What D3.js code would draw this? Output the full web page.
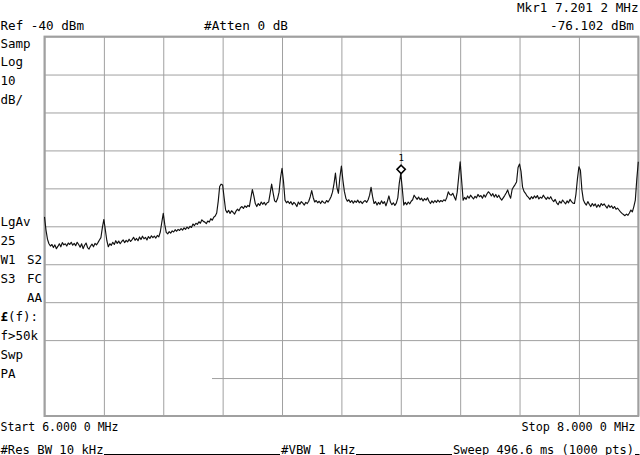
<!DOCTYPE html>
<html>
<head>
<meta charset="utf-8">
<script src="https://cdn.jsdelivr.net/npm/d3@7"></script>
<style>
  html, body { margin: 0; padding: 0; background: #fff; }
  svg { display: block; }
  text { font-family: "DejaVu Sans Mono", "Liberation Mono", monospace; font-size: 12.5px; fill: #000; }
</style>
</head>
<body>
<svg id="chart" width="640" height="455"></svg>
<script>
const startMHz = 6.0;
const stopMHz = 8.0;
const stepMHz = 0.005;          // trace readings every 5 kHz
const refLevelDbm = -40;
const dbPerDiv = 10;
const numDivs = 10;
const markerFreqMHz = 7.2012;
const markerLevelDbm = -76.102;
const markerLabel = "1";

// trace levels (dBm), one row per 0.1 MHz
const levelsDbm = [
  -87.5,-91.0,-93.4,-94.6,-95.2,-94.8,-95.6,-94.9,-95.9,-95.3,-94.6,-95.4,-94.3,-94.9,-94.6,-95.2,-94.4,-94.8,-94.2,-95.0,
  -94.5,-95.1,-94.2,-94.8,-95.5,-94.6,-95.9,-95.0,-94.4,-95.6,-96.0,-95.2,-94.7,-95.4,-94.5,-94.9,-94.3,-93.6,-93.0,-90.3,
  -88.2,-91.0,-93.8,-95.4,-94.6,-95.0,-94.2,-94.8,-93.8,-94.5,-93.9,-94.6,-94.0,-93.6,-94.3,-93.7,-94.1,-93.4,-94.0,-93.5,
  -92.9,-93.7,-93.2,-93.8,-92.8,-93.5,-92.6,-93.3,-92.9,-93.6,-92.7,-93.2,-92.5,-93.0,-92.6,-93.1,-92.4,-92.8,-91.5,-89.0,
  -86.6,-89.5,-91.6,-92.0,-91.4,-91.8,-91.2,-91.5,-90.9,-91.3,-90.8,-91.1,-90.6,-91.0,-90.4,-90.8,-90.2,-90.6,-90.0,-90.3,
  -89.4,-89.8,-89.2,-89.5,-88.8,-89.2,-88.3,-88.7,-88.9,-89.3,-88.6,-88.9,-88.0,-88.4,-87.6,-87.3,-86.5,-83.5,-79.5,-78.9,
  -79.1,-82.5,-85.7,-86.4,-85.8,-86.6,-85.9,-86.3,-86.8,-86.0,-85.5,-85.9,-85.1,-84.8,-85.3,-84.6,-85.0,-84.5,-84.8,-82.6,
  -80.3,-82.0,-84.0,-84.8,-84.0,-84.5,-83.6,-84.2,-83.7,-84.4,-83.8,-83.6,-81.3,-78.9,-81.2,-83.3,-83.6,-82.7,-81.0,-77.2,
  -74.7,-78.2,-83.1,-83.8,-83.4,-84.0,-83.5,-84.3,-83.7,-84.1,-84.8,-83.6,-84.2,-83.5,-83.9,-84.4,-83.7,-84.0,-83.4,-82.2,
  -80.6,-82.4,-83.6,-83.2,-83.8,-83.4,-84.0,-83.3,-83.7,-83.9,-83.2,-83.6,-83.0,-82.2,-81.0,-78.8,-76.0,-79.8,-81.3,-77.0,
  -74.1,-77.8,-80.8,-82.6,-83.4,-83.0,-83.7,-83.2,-83.9,-83.3,-83.7,-83.1,-83.8,-83.4,-84.0,-83.5,-83.2,-83.7,-83.0,-81.8,
  -79.7,-82.2,-84.0,-83.5,-84.4,-83.7,-84.2,-83.3,-84.0,-83.5,-84.6,-83.4,-82.0,-83.6,-84.3,-83.8,-84.5,-83.9,-82.5,-78.6,
  -76.1,-80.0,-84.4,-83.7,-84.3,-83.6,-84.1,-83.4,-83.0,-81.8,-82.4,-82.9,-82.3,-83.0,-82.6,-83.3,-82.7,-83.1,-82.5,-83.4,
  -84.0,-83.3,-83.8,-83.2,-83.7,-83.1,-83.6,-83.2,-83.5,-83.0,-83.3,-82.4,-80.9,-81.6,-81.8,-81.3,-82.2,-83.1,-81.0,-77.0,
  -73.0,-78.0,-83.1,-82.4,-82.9,-82.0,-82.6,-81.8,-82.3,-82.8,-82.1,-82.5,-81.6,-82.2,-81.9,-82.6,-81.7,-82.3,-81.5,-80.9,
  -81.3,-82.0,-81.4,-82.3,-81.6,-82.4,-81.8,-82.6,-83.1,-82.5,-81.9,-81.2,-80.4,-81.7,-82.6,-80.3,-79.6,-79.0,-78.3,-74.5,
  -73.6,-75.5,-79.6,-80.8,-81.3,-82.0,-82.4,-82.9,-82.2,-82.7,-82.0,-82.5,-81.9,-82.8,-82.3,-82.6,-81.8,-82.4,-82.9,-82.3,
  -82.8,-82.2,-83.0,-83.5,-82.9,-83.8,-84.3,-83.4,-83.9,-83.1,-83.6,-84.1,-83.3,-83.8,-82.9,-83.5,-83.9,-84.0,-81.5,-77.5,
  -74.3,-75.2,-80.4,-83.1,-83.9,-84.4,-83.5,-84.2,-84.8,-84.0,-84.6,-84.1,-85.0,-84.3,-84.9,-84.0,-84.5,-84.1,-84.7,-85.2,
  -84.4,-85.0,-84.6,-85.3,-84.8,-85.5,-85.2,-85.7,-86.2,-86.6,-86.9,-87.2,-86.8,-87.1,-86.5,-85.7,-86.2,-84.8,-83.1,-77.5,
  -73.0
];

// annotation texts
const topRightLines = ["Mkr1 7.201 2 MHz", "-76.102 dBm"];
const headerLeft = "Ref -40 dBm";
const headerMid = "#Atten 0 dB";
const leftUpper = ["Samp", "Log", "10", "dB/"];
const leftLower = [["LgAv", ""], ["25", ""], ["W1", "S2"], ["S3", "FC"], ["", "AA"], ["£", ""], ["f>50k", ""], ["Swp", ""], ["PA", ""]];
const footerStart = "Start 6.000 0 MHz";
const footerStop = "Stop 8.000 0 MHz";
const footerRes = "#Res BW 10 kHz";
const footerVbw = "#VBW 1 kHz";
const footerSweep = "Sweep 496.6 ms (1000 pts)";

// ---- drawing ----
const svg = d3.select("#chart");
const L = 44.5, R = 638.3, T = 36.6, B = 416;
const x = d3.scaleLinear().domain([startMHz, stopMHz]).range([L, R]);
const y = d3.scaleLinear().domain([refLevelDbm - dbPerDiv * numDivs, refLevelDbm]).range([B, T]);

const gridColor = "#a0a0a0";
const xTicks = d3.range(0, numDivs + 1).map(i => startMHz + i * (stopMHz - startMHz) / numDivs);
const yTicks = d3.range(0, numDivs + 1).map(i => refLevelDbm - i * dbPerDiv);

// vertical grid via axis
const gx = svg.append("g").attr("transform", `translate(0,${B})`)
  .call(d3.axisBottom(x).tickValues(xTicks).tickSize(-(B - T)).tickFormat(""));
gx.select(".domain").remove();
gx.selectAll(".tick line").attr("stroke", gridColor).attr("stroke-width", 1);

// horizontal grid via axis
const gy = svg.append("g").attr("transform", `translate(${L},0)`)
  .call(d3.axisLeft(y).tickValues(yTicks).tickSize(-(R - L)).tickFormat(""));
gy.select(".domain").remove();
gy.selectAll(".tick line").attr("stroke", gridColor).attr("stroke-width", 1);
// the line one division above the bottom is partly blanked on the screen
gy.selectAll(".tick").filter(d => d === refLevelDbm - 9 * dbPerDiv).select("line")
  .attr("x1", 212 - L);

// frame
svg.append("rect").attr("x", L).attr("y", T).attr("width", R - L).attr("height", B - T)
  .attr("fill", "none").attr("stroke", gridColor).attr("stroke-width", 2);

// trace
const trace = levelsDbm.map((v, i) => [startMHz + i * stepMHz, v]);
svg.append("path").datum(trace)
  .attr("fill", "none").attr("stroke", "#111").attr("stroke-width", 1.15)
  .attr("stroke-linejoin", "round")
  .attr("d", d3.line().x(d => x(d[0])).y(d => y(d[1])));

// marker
const mx = x(markerFreqMHz), my = y(markerLevelDbm);
const ds = 4.2;
svg.append("path")
  .attr("d", `M${mx},${my - 2 * ds} L${mx + ds},${my - ds} L${mx},${my} L${mx - ds},${my - ds} Z`)
  .attr("fill", "#fff").attr("stroke", "#000").attr("stroke-width", 1.5);
svg.append("text").attr("x", mx).attr("y", my - 2 * ds - 4.5).attr("text-anchor", "middle")
  .style("font-size", "9px").text(markerLabel);

// texts
function txt(s, xx, yy, len, anchor, fs) {
  const t = svg.append("text").attr("x", xx).attr("y", yy).text(s);
  if (len) t.attr("textLength", len).attr("lengthAdjust", "spacingAndGlyphs");
  if (anchor) t.attr("text-anchor", anchor);
  if (fs) t.style("font-size", fs + "px");
  return t;
}
txt(topRightLines[0], 638.5, 12, 121.5, "end");
txt(headerLeft, 0.5, 29.5, 83.5);
txt(headerMid, 204, 29.5, 84);
txt(topRightLines[1], 634, 29.5, 84, "end");

leftUpper.forEach((s, i) => txt(s, 0.5, 47.5 + i * 18.9));
leftLower.forEach((p, i) => {
  const yy = 226.4 + i * 18.9;
  if (p[0] === "£") {
    const t = svg.append("text").attr("x", 0.5).attr("y", yy);
    t.append("tspan").style("font-weight", "bold").text("£");
    t.append("tspan").text("(f):");
  } else if (p[0]) {
    txt(p[0], 0.5, yy);
  }
  if (p[1]) txt(p[1], 42, yy, null, "end");
});

txt(footerStart, 0.5, 431, 118);
txt(footerStop, 521.5, 431, 114, null, 11.8);
txt(footerRes, 0.5, 453.5, 103);
txt(footerVbw, 281, 453.5, 74.5);
txt(footerSweep, 453, 453.5, 181, null, 12);

// underscores of the setting line
[[104, 280], [356, 452], [635, 639.5]].forEach(s => {
  svg.append("line").attr("x1", s[0]).attr("x2", s[1]).attr("y1", 454.5).attr("y2", 454.5)
    .attr("stroke", "#000").attr("stroke-width", 1);
});
</script>
</body>
</html>
